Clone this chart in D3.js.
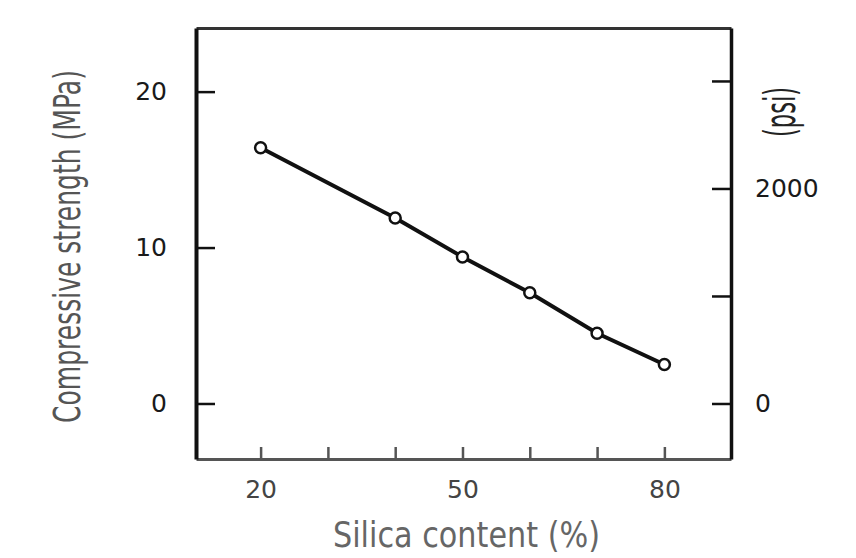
<!DOCTYPE html>
<html>
<head>
<meta charset="utf-8">
<script src="https://cdn.jsdelivr.net/npm/d3@7/dist/d3.min.js"></script>
<style>
  body { margin: 0; background: #fff; }
  svg { display: block; }
  .tick text { font-family: "DejaVu Sans", sans-serif; }
</style>
</head>
<body>
<svg id="chart" width="856" height="558"></svg>
<script>
'use strict';

// silica content (%) and compressive strength (MPa)
var silica = [20, 40, 50, 60, 70, 80];
var strength = [16.4, 11.9, 9.4, 7.1, 4.5, 2.5];

var xTicks = [20, 30, 40, 50, 60, 70, 80];
var xLabels = [20, 50, 80];
var mpaTicks = [0, 10, 20];
var psiTicks = [0, 1000, 2000, 3000];
var psiLabels = [0, 2000];

var MPA_TO_PSI = 145.04;

(function () {
    var svg = d3.select('#chart');

    var plotLeft = 196, plotRight = 731, plotTop = 28, plotBottom = 459;

    var x = d3.scaleLinear().domain([10.4, 89.9]).range([plotLeft, plotRight]);
    var y = d3.scaleLinear().domain([-3.56, 24.08]).range([plotBottom, plotTop]);
    var yPsi = d3.scaleLinear()
        .domain([y.domain()[0] * MPA_TO_PSI, y.domain()[1] * MPA_TO_PSI])
        .range([plotBottom, plotTop]);

    function styleAxis(g, color, width, fontSize, textColor) {
        g.select('.domain').attr('stroke', color).attr('stroke-width', width);
        g.selectAll('.tick line').attr('stroke', color).attr('stroke-width', 2.5);
        g.selectAll('.tick text')
            .attr('fill', textColor)
            .style('font-size', fontSize + 'px');
    }

    // condensed title: squeeze the text to a given length
    function title(txt, cx, cy, rotate, size, len, color) {
        var t = svg.append('text')
            .attr('text-anchor', 'middle')
            .style('font-family', '"DejaVu Sans", sans-serif')
            .style('font-size', size + 'px')
            .attr('fill', color)
            .text(txt);
        var natural = t.node().getComputedTextLength();
        t.attr('transform', 'translate(' + cx + ',' + cy + ')' +
            (rotate ? ' rotate(' + rotate + ')' : '') +
            ' scale(' + (len / natural) + ',1)');
        return t;
    }

    // top edge of the frame
    svg.append('g')
        .attr('transform', 'translate(0,' + plotTop + ')')
        .call(d3.axisTop(x).tickValues([]).tickSizeOuter(0))
        .call(styleAxis, '#333', 3, 25, '#222');

    // bottom axis
    svg.append('g')
        .attr('transform', 'translate(0,' + plotBottom + ')')
        .call(d3.axisBottom(x)
            .tickValues(xTicks)
            .tickSizeInner(-12)
            .tickSizeOuter(0)
            .tickPadding(21)
            .tickFormat(function (d) {
                return xLabels.indexOf(d) >= 0 ? d : '';
            }))
        .call(styleAxis, '#555', 3, 25, '#444');

    // left axis (MPa)
    svg.append('g')
        .attr('transform', 'translate(' + plotLeft + ',0)')
        .call(d3.axisLeft(y)
            .tickValues(mpaTicks)
            .tickSizeInner(-19)
            .tickSizeOuter(0)
            .tickPadding(29))
        .call(styleAxis, '#111', 4, 25, '#1a1a1a');

    // right axis (psi)
    svg.append('g')
        .attr('transform', 'translate(' + plotRight + ',0)')
        .call(d3.axisRight(yPsi)
            .tickValues(psiTicks)
            .tickSizeInner(-19)
            .tickSizeOuter(0)
            .tickPadding(24)
            .tickFormat(function (d) {
                return psiLabels.indexOf(d) >= 0 ? d : '';
            }))
        .call(styleAxis, '#111', 3.5, 25, '#1a1a1a');

    // data line
    var line = d3.line()
        .x(function (d, i) { return x(silica[i]); })
        .y(function (d) { return y(d); });

    svg.append('path')
        .datum(strength)
        .attr('d', line)
        .attr('fill', 'none')
        .attr('stroke', '#111')
        .attr('stroke-width', 4);

    svg.selectAll('.pt')
        .data(strength)
        .enter()
        .append('circle')
        .attr('class', 'pt')
        .attr('cx', function (d, i) { return x(silica[i]); })
        .attr('cy', function (d) { return y(d); })
        .attr('r', 5.5)
        .attr('fill', '#fff')
        .attr('stroke', '#111')
        .attr('stroke-width', 2.5);

    // axis titles
    title('Compressive strength (MPa)', 80, 246.5, -90, 38, 353, '#555');
    title('Silica content (%)', 466.5, 547, 0, 36, 267, '#666');
    title('(psi)', 795, 112, -90, 42, 50, '#222');
})();
</script>
</body>
</html>
